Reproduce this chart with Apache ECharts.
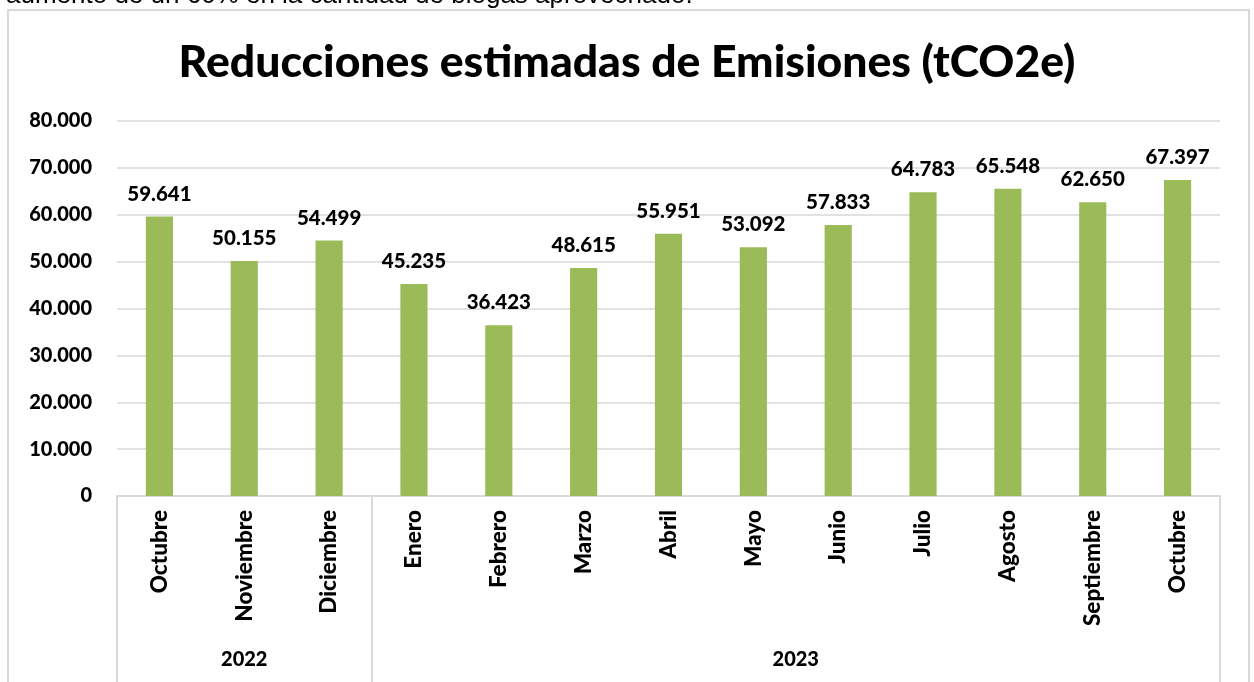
<!DOCTYPE html>
<html>
<head>
<meta charset="utf-8">
<script src="https://cdn.jsdelivr.net/npm/echarts@6/dist/echarts.min.js"></script>
<style>
  html, body { margin: 0; padding: 0; background: #ffffff; }
  #chart { width: 1254px; height: 682px; }
</style>
</head>
<body>
<div id="chart"></div>
<script>
// Monthly estimated emission reductions (tCO2e)
const months = ['Octubre', 'Noviembre', 'Diciembre', 'Enero', 'Febrero', 'Marzo', 'Abril',
                'Mayo', 'Junio', 'Julio', 'Agosto', 'Septiembre', 'Octubre'];
const reductions = [59641, 50155, 54499, 45235, 36423, 48615, 55951,
                    53092, 57833, 64783, 65548, 62650, 67397];
const years = ['2022', '2023'];
const monthsPerYear = [3, 10];
const yTicks = [0, 10000, 20000, 30000, 40000, 50000, 60000, 70000, 80000];

// Year group boundaries and centres on a 0..n scale matching the category bands
const boundaries = [0];
const centres = [];
monthsPerYear.forEach(function (n) {
  const start = boundaries[boundaries.length - 1];
  centres.push(start + n / 2);
  boundaries.push(start + n);
});

function fmt(v) {
  return String(Math.round(v)).replace(/\B(?=(\d{3})+(?!\d))/g, '.');
}

const FONT = 'Lato, "Open Sans", sans-serif';
const WEIGHT = 900;
const GRID = '#d9d9d9';

const chart = echarts.init(document.getElementById('chart'), null, { renderer: 'canvas' });

chart.setOption({
  backgroundColor: '#ffffff',
  animation: false,
  title: {
    text: 'Reducciones estimadas de Emisiones (tCO2e)',
    left: 'center',
    top: 35,
    textStyle: { fontFamily: FONT, fontWeight: WEIGHT, fontSize: 44.5, color: '#000000' }
  },
  graphic: [
    {
      type: 'text',
      left: 6,
      top: -17,
      style: {
        text: 'aumento de un 60% en la cantidad de biogás aprovechado.',
        fontFamily: '"Liberation Sans", Arial, sans-serif',
        fontSize: 26,
        fill: '#000000'
      }
    },
    {
      type: 'rect',
      shape: { x: 8, y: 10, width: 1241, height: 700 },
      style: { fill: 'none', stroke: GRID, lineWidth: 2 },
      silent: true
    }
  ],
  grid: { left: 117, right: 34, top: 121, bottom: 186, containLabel: false },
  xAxis: [
    {
      type: 'category',
      data: months,
      position: 'bottom',
      axisLine: { show: true, lineStyle: { color: GRID, width: 2 } },
      axisTick: { show: false },
      axisLabel: {
        rotate: 90,
        interval: 0,
        margin: 14,
        fontFamily: FONT,
        fontWeight: WEIGHT,
        fontSize: 22.5,
        color: '#000000'
      }
    },
    {
      type: 'value',
      min: 0,
      max: boundaries[boundaries.length - 1],
      position: 'bottom',
      axisLine: { show: false },
      splitLine: { show: false },
      axisTick: {
        show: true,
        customValues: boundaries,
        length: 200,
        lineStyle: { color: GRID, width: 2 }
      },
      axisLabel: {
        customValues: centres,
        formatter: function (v) {
          const i = centres.indexOf(v);
          return i >= 0 ? years[i] : '';
        },
        margin: 154,
        fontFamily: FONT,
        fontWeight: WEIGHT,
        fontSize: 20,
        color: '#000000'
      }
    }
  ],
  yAxis: {
    type: 'value',
    min: yTicks[0],
    max: yTicks[yTicks.length - 1],
    interval: yTicks[1] - yTicks[0],
    axisLine: { show: false },
    axisTick: { show: false },
    splitLine: { lineStyle: { color: GRID, width: 1.5 } },
    axisLabel: {
      margin: 25,
      formatter: fmt,
      fontFamily: FONT,
      fontWeight: WEIGHT,
      fontSize: 20,
      color: '#000000'
    }
  },
  series: [
    {
      type: 'bar',
      xAxisIndex: 0,
      data: reductions,
      barWidth: '32%',
      itemStyle: { color: '#9bbb59' },
      label: {
        show: true,
        position: 'top',
        distance: 12,
        formatter: function (p) { return fmt(p.value); },
        fontFamily: FONT,
        fontWeight: WEIGHT,
        fontSize: 20.5,
        color: '#000000'
      }
    }
  ]
});
</script>
</body>
</html>
